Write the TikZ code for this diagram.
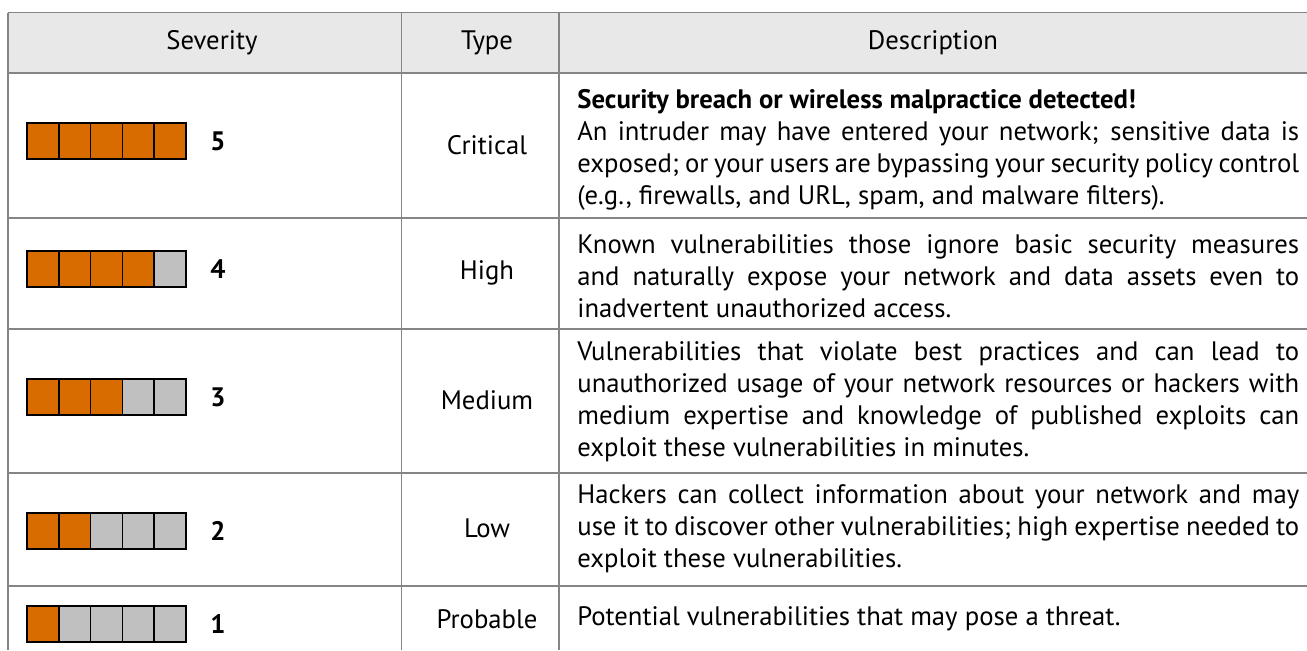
\documentclass[tikz,border=0pt]{standalone}
\usepackage{fontspec}
\setmainfont{PT Sans}
\usepackage{xcolor}
\definecolor{sevon}{HTML}{D96C00}
\definecolor{sevoff}{HTML}{C0C0C0}
\definecolor{headfill}{HTML}{E8E8E8}
\definecolor{gridline}{HTML}{858585}
\tikzset{
  cell/.style={font=\fontsize{15.2}{18.2}\selectfont, inner sep=0pt},
  desc/.style={cell, anchor=west, text width=14.44cm, align=justify},
  num/.style={cell, font=\fontsize{15.2}{18.2}\selectfont\bfseries},
}

\begin{document}
\begin{tikzpicture}[x=0.02cm, y=-0.02cm]
\useasboundingbox (0,0) rectangle (1307,650);
%--- Header row ---
\fill[headfill] (8,12.5) rectangle (1307,73);
\node[cell] (hsev) at (212,43) {Severity};
\node[cell] (htype) at (487,43) {Type};
\node[cell] (hdesc) at (933,43) {Description};
%--- Grid ---
\begin{scope}[draw=gridline, line width=0.85pt]
  \foreach \yy in {12.5, 73, 218, 329, 473, 586}
    \draw (8,\yy) -- (1307,\yy);
  \foreach \xx in {8, 401.7, 559}
    \draw (\xx,12.5) -- (\xx,650);
\end{scope}
%--- Severity bars ---
\foreach \lvl/\ytop in {5/123, 4/251, 3/379, 2/513, 1/606} {
  \foreach \i in {1,...,5} {
    \ifnum\i>\lvl \def\cellcol{sevoff}\else\def\cellcol{sevon}\fi
    \filldraw[fill=\cellcol, draw=black, line width=0.85pt]
      ({27+(\i-1)*31.8},\ytop) rectangle ({27+\i*31.8},\ytop+36);
  }
  \node[num] (n\lvl) at (218,\ytop+18) {\lvl};
}
%--- Types ---
\node[cell] (critical) at (487,145) {Critical};
\node[cell] (high) at (487,273) {High};
\node[cell] (medium) at (487,400) {Medium};
\node[cell] (low) at (487,528) {Low};
\node[cell] (probable) at (487,619) {Probable};
%--- Descriptions ---
\node[desc] (d5) at (577,150) {\textbf{Security breach or wireless malpractice detected!}\\
  An intruder may have entered your network; sensitive data is\linebreak
  exposed; or your users are bypassing your security policy control\linebreak
  (e.g., firewalls, and URL, spam, and malware filters).};
\node[desc] (d4) at (577,276) {Known vulnerabilities those ignore basic security measures\linebreak
  and naturally expose your network and data assets even to\linebreak
  inadvertent unauthorized access.};
\node[desc] (d3) at (577,402) {Vulnerabilities that violate best practices and can lead to\linebreak
  unauthorized usage of your network resources or hackers with\linebreak
  medium expertise and knowledge of published exploits can\linebreak
  exploit these vulnerabilities in minutes.};
\node[desc] (d2) at (577,529) {Hackers can collect information about your network and may\linebreak
  use it to discover other vulnerabilities; high expertise needed to\linebreak
  exploit these vulnerabilities.};
\node[desc] (d1) at (577,619) {Potential vulnerabilities that may pose a threat.};
\end{tikzpicture}
\end{document}
